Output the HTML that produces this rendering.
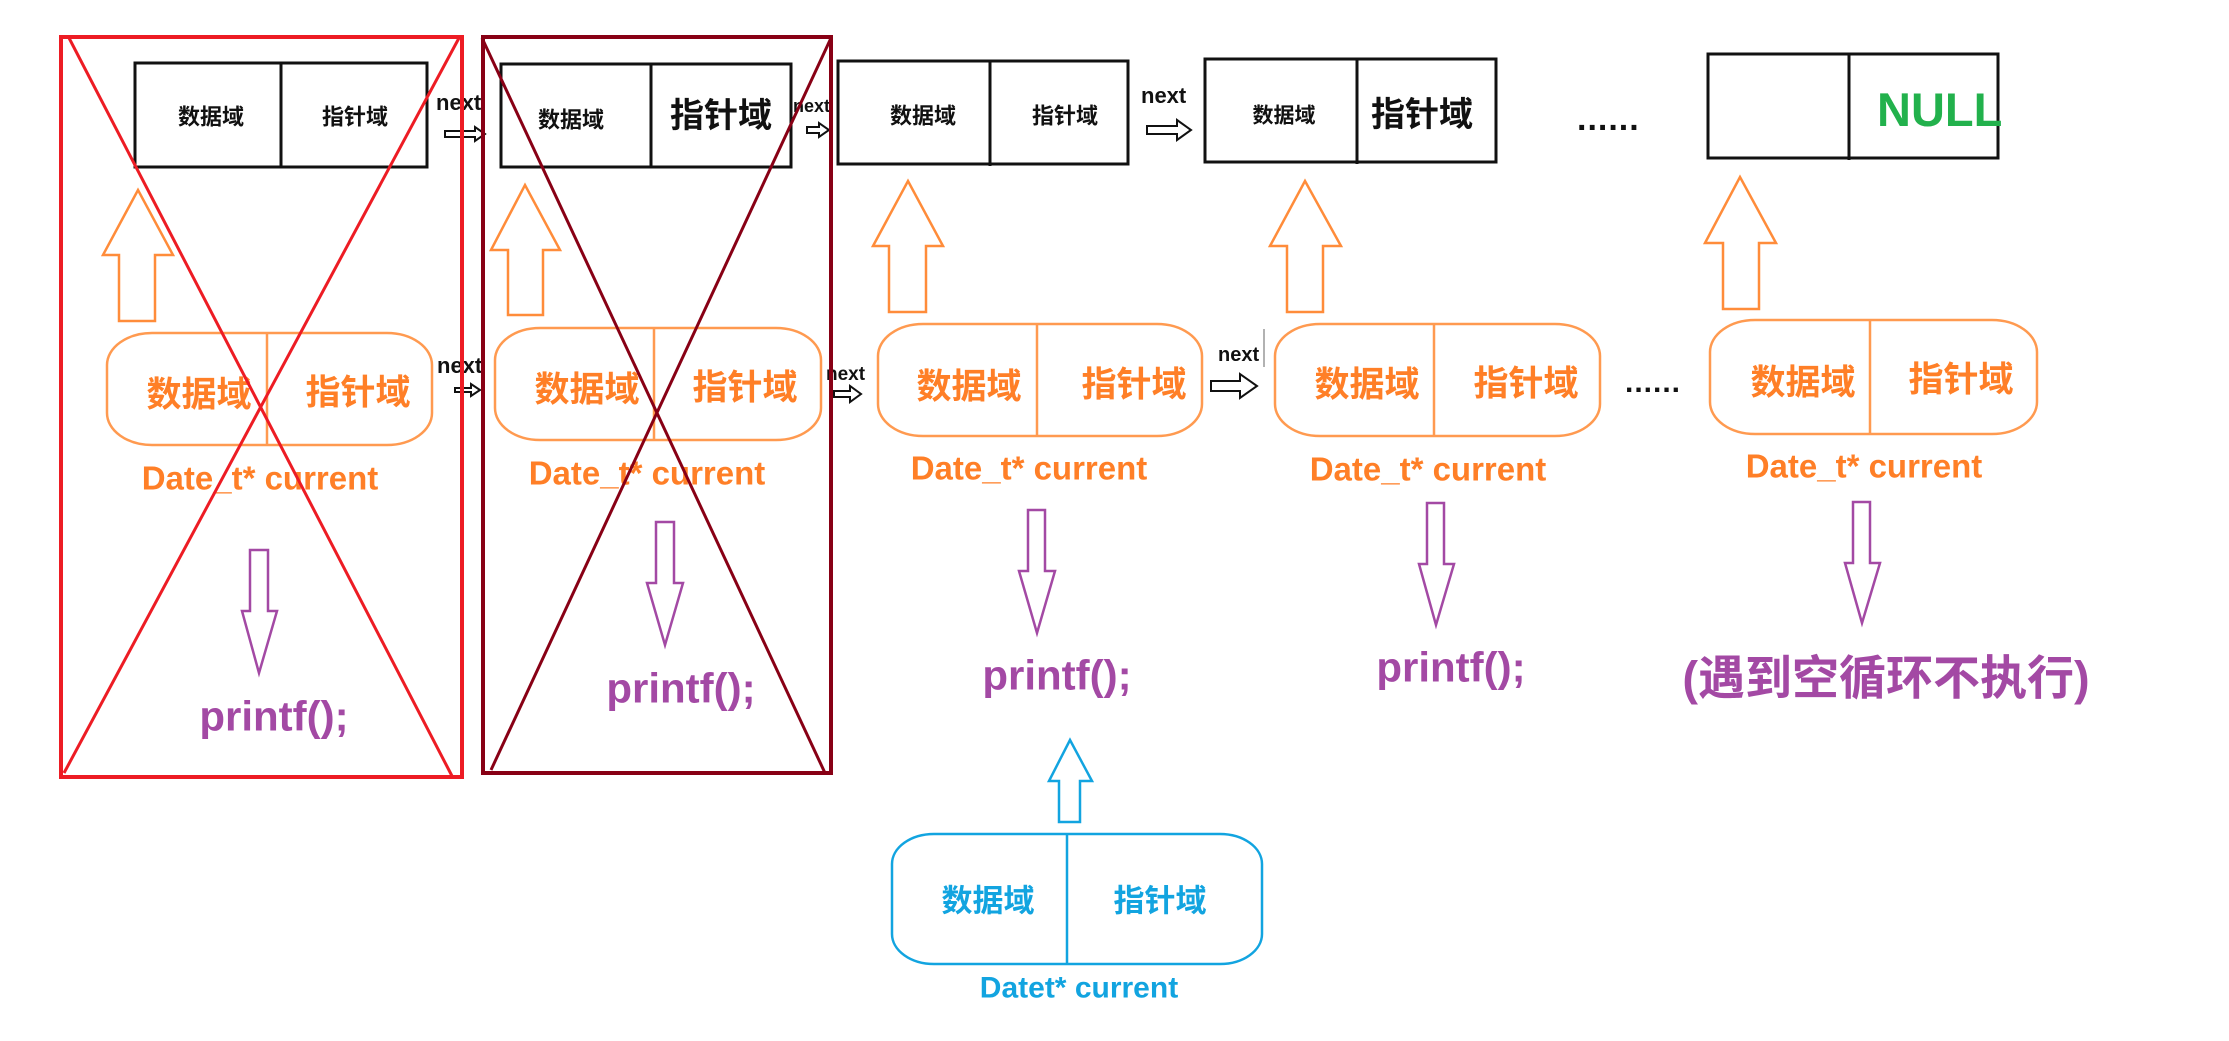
<!DOCTYPE html>
<html><head><meta charset="utf-8"><style>
html,body{margin:0;padding:0;background:#fff;}
svg{display:block;}
.cj{font-family:"Liberation Sans","Noto Sans CJK SC",sans-serif;font-weight:bold;}
.lt{font-family:"Liberation Sans","Noto Sans CJK SC",sans-serif;font-weight:bold;}
</style></head><body>
<svg width="2229" height="1041" viewBox="0 0 2229 1041" xmlns="http://www.w3.org/2000/svg">
<rect width="2229" height="1041" fill="#fff"/>
<!-- top black boxes -->
<g fill="none" stroke="#111" stroke-width="3">
<rect x="135" y="63" width="292" height="104"/><line x1="281" y1="63" x2="281" y2="167"/>
<rect x="501" y="64" width="290" height="103"/><line x1="651" y1="64" x2="651" y2="167"/>
<rect x="838" y="61" width="290" height="103"/><line x1="990" y1="61" x2="990" y2="166"/>
<rect x="1205" y="59" width="291" height="103"/><line x1="1357" y1="59" x2="1357" y2="164"/>
<rect x="1708" y="54" width="290" height="104"/><line x1="1849" y1="54" x2="1849" y2="160"/>
</g>
<g class="cj" fill="#111" text-anchor="middle" dominant-baseline="central">
<text x="211" y="117" font-size="22">数据域</text><text x="355" y="117" font-size="22">指针域</text>
<text x="571" y="120" font-size="22">数据域</text><text x="721" y="116" font-size="34">指针域</text>
<text x="923" y="116" font-size="22">数据域</text><text x="1065" y="116" font-size="22">指针域</text>
<text x="1284" y="116" font-size="21">数据域</text><text x="1422" y="115" font-size="34">指针域</text>
</g>
<text class="lt" x="1877" y="126" font-size="47" fill="#22b14c">NULL</text>
<text class="lt" x="1577" y="130" font-size="34" fill="#111" letter-spacing="1">......</text>
<!-- next labels -->
<g class="lt" fill="#111">
<text x="436" y="110" font-size="22">next</text>
<text x="793" y="112" font-size="18">next</text>
<text x="1141" y="103" font-size="22">next</text>
<text x="437" y="373" font-size="22">next</text>
<text x="826" y="380" font-size="19">next</text>
<text x="1218" y="361" font-size="20">next</text>
</g>
<line x1="1264" y1="329" x2="1264" y2="367" stroke="#999" stroke-width="1.5"/>
<g fill="#fff" stroke="#111" stroke-width="2">
<polygon points="445,131 475,131 475,127 485,134 475,141 475,137 445,137"/>
<polygon points="807,127 819,127 819,123 829,130 819,137 819,133 807,133"/>
<polygon points="1147,126 1177,126 1177,120 1191,130 1177,140 1177,134 1147,134"/>
<polygon points="455,388 471,388 471,384 480,390 471,396 471,392 455,392"/>
<polygon points="834,391 850,391 850,386 861,394 850,402 850,397 834,397"/>
<polygon points="1211,381 1240,381 1240,374 1257,386 1240,398 1240,391 1211,391"/>
</g>
<text class="lt" x="1625" y="392" font-size="30" fill="#111" letter-spacing="1">......</text>
<!-- orange up arrows -->
<g fill="#fff" stroke="#ff8c3a" stroke-width="2.5">
<polygon points="119,321 119,255 103,255 138,190 173,255 155,255 155,321"/>
<polygon points="508,315 508,250 491,250 525,185 560,250 543,250 543,315"/>
<polygon points="889,312 889,246 873,246 908,181 943,246 926,246 926,312"/>
<polygon points="1287,312 1287,246 1270,246 1305,181 1341,246 1323,246 1323,312"/>
<polygon points="1723,309 1723,243 1705,243 1740,177 1776,243 1759,243 1759,309"/>
</g>
<!-- orange rounded rects -->
<g fill="none" stroke="#ff9a50" stroke-width="2.5">
<rect x="107" y="333" width="325" height="112" rx="45" ry="32"/><line x1="267" y1="333" x2="267" y2="445"/>
<rect x="495" y="328" width="326" height="112" rx="45" ry="32"/><line x1="654" y1="328" x2="654" y2="440"/>
<rect x="878" y="324" width="324" height="112" rx="45" ry="32"/><line x1="1037" y1="324" x2="1037" y2="436"/>
<rect x="1275" y="324" width="325" height="112" rx="45" ry="32"/><line x1="1434" y1="324" x2="1434" y2="436"/>
<rect x="1710" y="320" width="327" height="114" rx="45" ry="32"/><line x1="1870" y1="320" x2="1870" y2="434"/>
</g>
<g class="cj" fill="#ff7f27" text-anchor="middle" dominant-baseline="central" font-size="35">
<text x="199" y="395">数据域</text><text x="358" y="393">指针域</text>
<text x="587" y="390">数据域</text><text x="745" y="388">指针域</text>
<text x="969" y="387">数据域</text><text x="1134" y="385">指针域</text>
<text x="1367" y="385">数据域</text><text x="1526" y="384">指针域</text>
<text x="1803" y="383">数据域</text><text x="1961" y="380">指针域</text>
</g>
<g class="lt" fill="#ff7f27" text-anchor="middle" dominant-baseline="central" font-size="33">
<text x="260" y="478">Date_t* current</text>
<text x="647" y="473">Date_t* current</text>
<text x="1029" y="468">Date_t* current</text>
<text x="1428" y="469">Date_t* current</text>
<text x="1864" y="466">Date_t* current</text>
</g>
<!-- purple down arrows -->
<g fill="#fff" stroke="#a349a4" stroke-width="2.5">
<polygon points="250,550 268,550 268,611 277,611 259,673 242,611 250,611"/>
<polygon points="656,522 674,522 674,583 683,583 665,645 647,583 656,583"/>
<polygon points="1028,510 1045,510 1045,571 1055,571 1037,633 1019,571 1028,571"/>
<polygon points="1427,503 1444,503 1444,564 1454,564 1436,625 1419,564 1427,564"/>
<polygon points="1853,502 1870,502 1870,563 1880,563 1862,623 1845,563 1853,563"/>
</g>
<g class="lt" fill="#a349a4" text-anchor="middle" dominant-baseline="central" font-size="42">
<text x="274" y="716">printf();</text>
<text x="681" y="688">printf();</text>
<text x="1057" y="675">printf();</text>
<text x="1451" y="667">printf();</text>
</g>
<text class="cj" x="1886" y="678" font-size="47" fill="#a349a4" text-anchor="middle" dominant-baseline="central">(遇到空循环不执行)</text>
<!-- blue -->
<polygon points="1059,822 1059,781 1049,781 1070,740 1092,781 1080,781 1080,822" fill="#fff" stroke="#12a4e0" stroke-width="2.5"/>
<rect x="892" y="834" width="370" height="130" rx="42" ry="30" fill="none" stroke="#12a4e0" stroke-width="2.5"/>
<line x1="1067" y1="834" x2="1067" y2="964" stroke="#12a4e0" stroke-width="2.5"/>
<g class="cj" fill="#12a4e0" text-anchor="middle" dominant-baseline="central" font-size="31">
<text x="988" y="901">数据域</text><text x="1160" y="901">指针域</text>
</g>
<text class="lt" x="1079" y="988" font-size="30" fill="#12a4e0" text-anchor="middle" dominant-baseline="central">Datet* current</text>
<!-- crossed-out rects -->
<g fill="none" stroke="#ed1c24" stroke-width="4">
<rect x="61" y="37" width="401" height="740"/>
</g>
<g stroke="#ed1c24" stroke-width="3">
<line x1="68" y1="36" x2="452" y2="776"/><line x1="459" y1="38" x2="64" y2="773"/>
</g>
<rect x="483" y="37" width="348" height="736" fill="none" stroke="#880015" stroke-width="4"/>
<g stroke="#880015" stroke-width="3">
<line x1="482" y1="38" x2="825" y2="773"/><line x1="831" y1="38" x2="491" y2="770"/>
</g>
</svg>
</body></html>
